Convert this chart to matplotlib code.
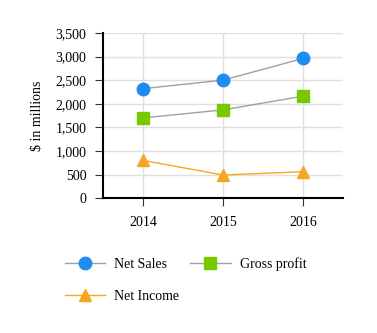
import matplotlib.pyplot as plt

plt.rcParams['font.family'] = 'Liberation Serif'

years = ['2014', '2015', '2016']
net_sales = [2320, 2500, 2960]
gross_profit = [1700, 1870, 2160]
net_income = [800, 490, 560]

fig = plt.figure(figsize=(3.77, 3.33), dpi=100)
ax = fig.add_axes([0.273, 0.405, 0.637, 0.496])

x = range(len(years))
l1, = ax.plot(x, net_sales, color='#a0a0a0', lw=1, marker='o', ms=9,
              mfc='#1e8cf0', mec='#1e8cf0', label='Net Sales', zorder=3)
l2, = ax.plot(x, gross_profit, color='#a0a0a0', lw=1, marker='s', ms=9,
              mfc='#78c800', mec='#78c800', label='Gross profit', zorder=3)
l3, = ax.plot(x, net_income, color='#f5a623', lw=1, marker='^', ms=9,
              mfc='#f5a623', mec='#f5a623', label='Net Income', zorder=3)

ax.set_xlim(-0.5, 2.5)
ax.set_ylim(0, 3500)
ax.set_xticks(list(x))
ax.set_xticklabels(years)
ax.set_yticks(range(0, 3501, 500))
ax.set_yticklabels(['{:,}'.format(v) for v in range(0, 3501, 500)])
ax.grid(True, color='#e0e0e0', lw=1)
ax.set_axisbelow(True)
for s in ['top', 'right']:
    ax.spines[s].set_visible(False)
ax.spines['left'].set_linewidth(1.5)
ax.spines['bottom'].set_linewidth(1.5)
ax.tick_params(axis='x', length=6, pad=7, labelsize=10, color='#333333')
ax.tick_params(axis='y', length=6, pad=6, labelsize=10, color='#333333')
ax.set_ylabel('$ in millions', fontsize=10, labelpad=8)

# column-major fill: Net Sales / Net Income in col 1, Gross profit in col 2
fig.legend([l1, l3, l2], ['Net Sales', 'Net Income', 'Gross profit'],
           loc='upper left', bbox_to_anchor=(0.172, 0.228), ncol=2,
           frameon=False, fontsize=10, handlelength=2.9, columnspacing=0.8,
           labelspacing=1.4, handletextpad=0.65, borderpad=0, borderaxespad=0)

fig.savefig('out.png', dpi=100)
